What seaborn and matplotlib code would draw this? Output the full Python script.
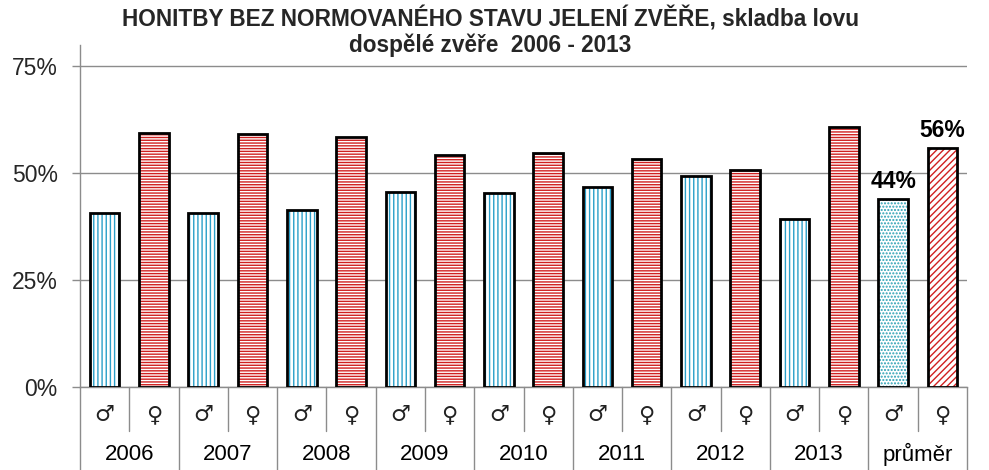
import numpy as np
import pandas as pd
import matplotlib
matplotlib.use('Agg')
import matplotlib.pyplot as plt
import matplotlib.transforms as mtransforms
from matplotlib.patches import Rectangle
import seaborn as sns

# ---- data ----
years = ['2006', '2007', '2008', '2009', '2010', '2011', '2012', '2013', 'průměr']
male = [40.6, 40.8, 41.5, 45.7, 45.3, 46.7, 49.3, 39.2, 44.0]
female = [59.4, 59.2, 58.5, 54.3, 54.7, 53.3, 50.7, 60.8, 56.0]
sex_labels = ['♂', '♀']
avg_labels = ['44%', '56%']
yticks = [0, 25, 50, 75]
ytick_labels = ['0%', '25%', '50%', '75%']
title_line1 = 'HONITBY BEZ NORMOVANÉHO STAVU JELENÍ ZVĚŘE, skladba lovu'
title_line2 = 'dospělé zvěře  2006 - 2013'

sns.set_theme(style='white')
plt.rcParams['font.family'] = ['Liberation Sans', 'DejaVu Sans']
plt.rcParams['hatch.linewidth'] = 1.0

rows = []
for i, y in enumerate(years):
    rows.append({'cat': f'{y}_m', 'year': y, 'sex': sex_labels[0], 'value': male[i]})
    rows.append({'cat': f'{y}_f', 'year': y, 'sex': sex_labels[1], 'value': female[i]})
df = pd.DataFrame(rows)
order = list(df['cat'])

fig = plt.figure(figsize=(9.89, 4.70), dpi=100)
ax = fig.add_axes([80 / 989, 1 - 387 / 470, (967 - 80) / 989, (387 - 45) / 470])

sns.barplot(data=df, x='cat', y='value', order=order, width=0.6, color='white',
            saturation=1, ax=ax, zorder=2)

blue = '#2a9fc9'
red = '#d02020'
teal = '#2aa0b4'
n_reg = 2 * (len(years) - 1)
for i, p in enumerate(list(ax.patches)):
    is_f = i % 2 == 1
    if i < n_reg:
        hatch = '------' if is_f else '||||'
        col = red if is_f else blue
    else:
        hatch = '/////' if is_f else '.....'
        col = red if is_f else teal
    p.set_facecolor('white')
    p.set_edgecolor(col)
    p.set_hatch(hatch)
    p.set_linewidth(0)
    ax.add_patch(Rectangle(p.get_xy(), p.get_width(), p.get_height(), fill=False,
                           edgecolor='black', lw=2.0, zorder=3))

# average labels
for j, lab in enumerate(avg_labels):
    idx = n_reg + j
    val = df['value'].iloc[idx]
    ax.annotate(lab, (idx, val), xytext=(0, 4), textcoords='offset points',
                ha='center', va='bottom', fontsize=16.5, fontweight='bold', color='black')

ax.set_ylim(0, 80)
ax.set_xlim(-0.5, len(order) - 0.5)
ax.set_yticks(yticks)
ax.set_yticklabels(ytick_labels, fontsize=16.5)
ax.yaxis.grid(True, color='#8c8c8c', lw=1.0, zorder=0)
ax.set_axisbelow(True)
ax.tick_params(axis='y', which='both', left=True, length=6, color='#8c8c8c', width=1, pad=10)
ax.set_xticks(range(len(order)))
ax.set_xticklabels([])
ax.tick_params(axis='x', length=0)
ax.set_xlabel('')
ax.set_ylabel('')
for s in ['top', 'right']:
    ax.spines[s].set_visible(False)
ax.spines['left'].set_color('#8c8c8c')
ax.spines['bottom'].set_color('#8c8c8c')
ax.spines['left'].set_linewidth(1)
ax.spines['bottom'].set_linewidth(1)

trans = mtransforms.blended_transform_factory(ax.transData, ax.transAxes)
for k, row in df.iterrows():
    ax.text(k, -0.082, row['sex'], transform=trans, ha='center', va='center',
            fontsize=16, family=['DejaVu Sans'], color='#222222')
for j, y in enumerate(years):
    ax.text(2 * j + 0.5, -0.198, y, transform=trans, ha='center', va='center',
            fontsize=16, color='black')
# dividers
for b in range(len(order) + 1):
    x = b - 0.5
    y0 = -0.245 if b % 2 == 0 else -0.128
    ax.plot([x, x], [0, y0], transform=trans, color='#8c8c8c', lw=1, clip_on=False)

fig.text(0.496, 1 - 19 / 470, title_line1, ha='center', va='center', fontsize=16.3,
         fontweight='bold')
fig.text(0.496, 1 - 45 / 470, title_line2, ha='center', va='center', fontsize=16.3,
         fontweight='bold')

fig.savefig('out.png', dpi=100, facecolor='white')
